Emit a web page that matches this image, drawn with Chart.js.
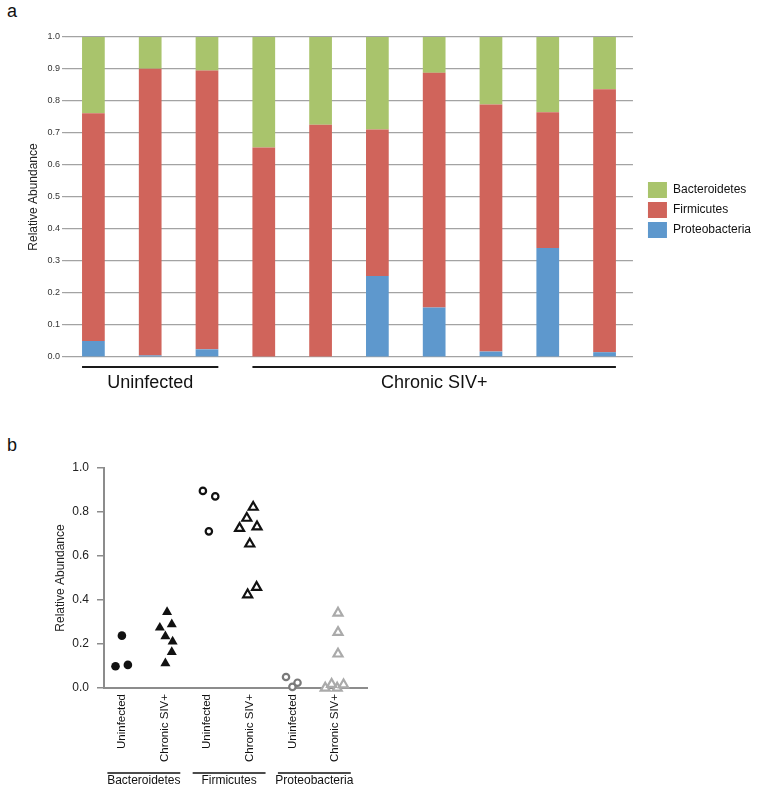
<!DOCTYPE html>
<html>
<head>
<meta charset="utf-8">
<script src="https://cdn.jsdelivr.net/npm/chart.js@4.4.1/dist/chart.umd.min.js"></script>
<style>
  body { margin: 0; background: #fff; width: 761px; height: 793px; position: relative; overflow: hidden; font-family: "Liberation Sans", Arial, sans-serif; }
  .panel-letter { position: absolute; font-size: 18px; line-height: 1; color: #111; }
  #wrapA { position: absolute; left: 0; top: 0; width: 761px; height: 400px; }
  #wrapB { position: absolute; left: 0; top: 420px; width: 420px; height: 373px; }
</style>
</head>
<body>
<div class="panel-letter" style="left:7px; top:2px;">a</div>
<div class="panel-letter" style="left:7px; top:436px;">b</div>
<div id="wrapA"><canvas id="chartA"></canvas></div>
<div id="wrapB"><canvas id="chartB"></canvas></div>
<script>
// one entry per animal, same order in both panels
const samples = ['U1', 'U2', 'U3', 'S1', 'S2', 'S3', 'S4', 'S5', 'S6', 'S7'];
const bacteroidetes = [0.238, 0.099, 0.105, 0.345, 0.274, 0.289, 0.112, 0.211, 0.235, 0.163];
const firmicutes = [0.712, 0.896, 0.871, 0.655, 0.726, 0.458, 0.733, 0.772, 0.424, 0.822];
const proteobacteria = [0.050, 0.005, 0.024, 0.000, 0.000, 0.253, 0.155, 0.017, 0.341, 0.015];

const groupNames = ['Uninfected', 'Chronic SIV+'];
const groupFirst = [0, 3];
const groupLast = [2, 9];
const yTicksA = [0, 0.1, 0.2, 0.3, 0.4, 0.5, 0.6, 0.7, 0.8, 0.9, 1.0];

// panel b
const phyla = ['Bacteroidetes', 'Firmicutes', 'Proteobacteria'];
const xLabelsB = ['Uninfected', 'Chronic SIV+', 'Uninfected', 'Chronic SIV+', 'Uninfected', 'Chronic SIV+'];
const uninfectedIdx = [0, 1, 2];
const chronicIdx = [3, 4, 5, 6, 7, 8, 9];
// horizontal scatter of each dot inside its column
const jitterB = [
  [0, -0.15, 0.14],
  [0.06, -0.11, 0.17, 0.02, 0.19, 0.02, 0.17],
  [0.04, -0.10, 0.19],
  [0, -0.24, 0.16, 0.17, -0.07, -0.05, 0.08],
  [-0.15, 0, 0.12],
  [-0.23, 0.05, 0.07, 0.07, -0.08, 0.07, 0.20]
];
const yTicksB = [0, 0.2, 0.4, 0.6, 0.8, 1.0];

const FONT = '"Liberation Sans", Arial, Helvetica, sans-serif';
Chart.defaults.font.family = FONT;
Chart.defaults.color = '#222';

const GREEN = '#a9c46c';
const RED = '#d0645b';
const BLUE = '#5e98cd';

const groupLabelsA = {
    id: 'groupLabelsA',
    afterDraw(chart) {
        const ctx = chart.ctx;
        const bars = chart.getDatasetMeta(0).data;
        const yBase = chart.scales.y.getPixelForValue(0);
        ctx.save();
        ctx.strokeStyle = '#1a1a1a';
        ctx.lineWidth = 2;
        ctx.fillStyle = '#111';
        ctx.font = '18px ' + FONT;
        ctx.textAlign = 'center';
        ctx.textBaseline = 'middle';
        groupNames.forEach((name, g) => {
            const first = bars[groupFirst[g]];
            const last = bars[groupLast[g]];
            const left = first.x - first.width / 2;
            const right = last.x + last.width / 2;
            ctx.beginPath();
            ctx.moveTo(left, yBase + 10);
            ctx.lineTo(right, yBase + 10);
            ctx.stroke();
            ctx.fillText(name, (left + right) / 2, yBase + 26);
        });
        ctx.restore();
    }
};

new Chart(document.getElementById('chartA'), {
    type: 'bar',
    data: {
        labels: samples,
        datasets: [
            { label: 'Proteobacteria', data: proteobacteria, backgroundColor: BLUE },
            { label: 'Firmicutes', data: firmicutes, backgroundColor: RED },
            { label: 'Bacteroidetes', data: bacteroidetes, backgroundColor: GREEN }
        ]
    },
    options: {
        responsive: true,
        maintainAspectRatio: false,
        animation: false,
        layout: { padding: { top: 37, left: 0, right: 0, bottom: 17 } },
        datasets: { bar: { barPercentage: 0.4, categoryPercentage: 1.0 } },
        scales: {
            x: {
                stacked: true,
                grid: { display: false },
                border: { display: false },
                ticks: { display: false },
                afterFit: s => { s.height = 26; }
            },
            y: {
                stacked: true,
                min: 0,
                max: 1,
                afterBuildTicks: s => { s.ticks = yTicksA.map(v => ({ value: v })); },
                afterFit: s => { s.width = 65; },
                grid: { color: '#a3a3a3', lineWidth: 1.2, tickLength: 3 },
                border: { display: false },
                ticks: { padding: 2, color: '#333', font: { size: 9 }, callback: v => v.toFixed(1) },
                title: { display: true, text: 'Relative Abundance', color: '#222', font: { size: 12 }, padding: { top: 26, bottom: 0 } }
            },
            spacer: {
                type: 'linear',
                position: 'right',
                grid: { display: false },
                border: { display: false },
                ticks: { display: false },
                afterFit: s => { s.width = 11; }
            }
        },
        plugins: {
            legend: {
                position: 'right',
                reverse: true,
                labels: { boxWidth: 19, boxHeight: 16, padding: 4, color: '#111', font: { size: 12 } }
            },
            tooltip: { enabled: false }
        }
    },
    plugins: [groupLabelsA]
});

// ---- panel b ----
const byPhylum = [bacteroidetes, firmicutes, proteobacteria];
const markerStyles = [
    { pointStyle: 'circle', radius: 4.3, fill: '#111', edge: '#111', bw: 0 },
    { pointStyle: 'triangle', radius: 5.8, fill: '#111', edge: '#111', bw: 0 },
    { pointStyle: 'circle', radius: 3.2, fill: '#fff', edge: '#111', bw: 2.2 },
    { pointStyle: 'triangle', radius: 5.2, fill: '#fff', edge: '#111', bw: 2.2 },
    { pointStyle: 'circle', radius: 3.2, fill: '#fff', edge: '#7a7a7a', bw: 2.2 },
    { pointStyle: 'triangle', radius: 5.2, fill: '#fff', edge: '#aaaaaa', bw: 2.2 }
];

const datasetsB = xLabelsB.map((status, k) => {
    const vals = byPhylum[Math.floor(k / 2)];
    const idx = k % 2 === 0 ? uninfectedIdx : chronicIdx;
    const st = markerStyles[k];
    return {
        label: phyla[Math.floor(k / 2)] + ' ' + status,
        data: idx.map((i, j) => ({ x: k + jitterB[k][j], y: vals[i] })),
        pointStyle: st.pointStyle,
        pointRadius: st.radius,
        pointBackgroundColor: st.fill,
        pointBorderColor: st.edge,
        pointBorderWidth: st.bw,
        clip: false
    };
});

const groupLabelsB = {
    id: 'groupLabelsB',
    afterDraw(chart) {
        const ctx = chart.ctx;
        const xs = chart.scales.x;
        const yBase = chart.scales.y.getPixelForValue(0);
        ctx.save();
        ctx.strokeStyle = '#111';
        ctx.lineWidth = 1.5;
        ctx.fillStyle = '#111';
        ctx.font = '12px ' + FONT;
        ctx.textAlign = 'center';
        ctx.textBaseline = 'middle';
        phyla.forEach((name, p) => {
            const left = xs.getPixelForValue(2 * p - 0.34);
            const right = xs.getPixelForValue(2 * p + 1 + 0.37);
            ctx.beginPath();
            ctx.moveTo(left, yBase + 85);
            ctx.lineTo(right, yBase + 85);
            ctx.stroke();
            ctx.fillText(name, (left + right) / 2, yBase + 93);
        });
        ctx.restore();
    }
};

new Chart(document.getElementById('chartB'), {
    type: 'scatter',
    data: { datasets: datasetsB },
    options: {
        responsive: true,
        maintainAspectRatio: false,
        animation: false,
        layout: { padding: { top: 48, left: 0, right: 53, bottom: 0 } },
        scales: {
            x: {
                type: 'linear',
                min: -0.42,
                max: 5.75,
                afterBuildTicks: s => { s.ticks = xLabelsB.map((_, i) => ({ value: i })); },
                afterFit: s => { s.height = 105; },
                grid: { display: false, drawTicks: false },
                border: { display: true, color: '#8c8c8c', width: 2 },
                ticks: { autoSkip: false, minRotation: 90, maxRotation: 90, padding: 6, color: '#111', font: { size: 11.5 }, callback: v => xLabelsB[v] }
            },
            y: {
                min: 0,
                max: 1,
                afterBuildTicks: s => { s.ticks = yTicksB.map(v => ({ value: v })); },
                afterFit: s => { s.width = 104; },
                grid: { drawOnChartArea: false, drawTicks: true, tickLength: 7, color: '#8c8c8c', lineWidth: 1.5 },
                border: { display: true, color: '#8c8c8c', width: 2 },
                ticks: { padding: 8, color: '#222', font: { size: 12 }, callback: v => v.toFixed(1) },
                title: { display: true, text: 'Relative Abundance', color: '#222', font: { size: 12 }, padding: { top: 53, bottom: 0 } }
            }
        },
        plugins: {
            legend: { display: false },
            tooltip: { enabled: false }
        }
    },
    plugins: [groupLabelsB]
});
</script>
</body>
</html>
